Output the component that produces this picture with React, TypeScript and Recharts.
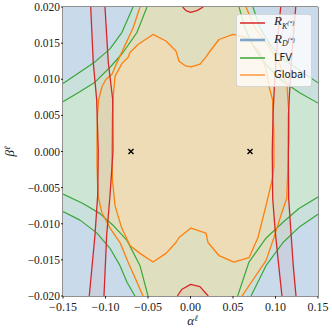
import React from "react";
import { ScatterChart, Scatter, XAxis, YAxis, ReferenceLine, Legend } from "recharts";

// (alpha, beta) pairs
type Pt = [number, number];

const xTicks = [-0.15, -0.1, -0.05, 0, 0.05, 0.1, 0.15];
const yTicks = [-0.02, -0.015, -0.01, -0.005, 0, 0.005, 0.01, 0.015, 0.02];

const plotCorners: Pt[] = [[-0.15, -0.02], [0.15, -0.02], [0.15, 0.02], [-0.15, 0.02]];
const benchmarks: Pt[] = [[-0.07, 0], [0.07, 0]];

// LFV contours (inner = 1 sigma, outer = 2 sigma), one pair per corner
const lfvTopLeftInner: Pt[] = [[-0.15, 0.0069], [-0.1312, 0.0082], [-0.1124, 0.0096], [-0.0935, 0.0118], [-0.0794, 0.0137], [-0.0629, 0.0165], [-0.0512, 0.02]];
const lfvTopLeftOuter: Pt[] = [[-0.15, 0.0094], [-0.1312, 0.0109], [-0.1124, 0.0124], [-0.0947, 0.0142], [-0.0806, 0.0165], [-0.0676, 0.02]];
const lfvTopRightInner: Pt[] = [[0.0571, 0.02], [0.0641, 0.0171], [0.0747, 0.0144], [0.0888, 0.012], [0.1076, 0.0098], [0.1288, 0.0081], [0.15, 0.0067]];
const lfvTopRightOuter: Pt[] = [[0.0735, 0.02], [0.0818, 0.0171], [0.0935, 0.0148], [0.11, 0.0127], [0.1288, 0.0112], [0.15, 0.0095]];
const lfvBottomRightInner: Pt[] = [[0.15, -0.0063], [0.1276, -0.0079], [0.1088, -0.0098], [0.0888, -0.012], [0.0688, -0.0153], [0.0555, -0.02]];
const lfvBottomRightOuter: Pt[] = [[0.15, -0.0087], [0.1276, -0.0105], [0.1088, -0.0126], [0.0888, -0.0158], [0.0712, -0.02]];
const lfvBottomLeftInner: Pt[] = [[-0.15, -0.0059], [-0.1265, -0.0072], [-0.1065, -0.0086], [-0.0912, -0.0102], [-0.0747, -0.0123], [-0.0594, -0.0158], [-0.05, -0.02]];
const lfvBottomLeftOuter: Pt[] = [[-0.15, -0.0083], [-0.13, -0.0095], [-0.11, -0.0113], [-0.0947, -0.0134], [-0.0829, -0.0158], [-0.0747, -0.0181], [-0.0653, -0.02]];

// Global fit: 1 sigma closed blob, 2 sigma left/right boundaries
const globalInner: Pt[] = [
  [-0.0924, 0], [-0.0918, 0.0052], [-0.0912, 0.0072], [-0.0888, 0.0104], [-0.0806, 0.0122], [-0.0735, 0.013],
  [-0.0712, 0.0137], [-0.0618, 0.0148], [-0.0441, 0.0162], [-0.0288, 0.0153], [-0.0171, 0.0139], [-0.0135, 0.0125],
  [-0.0065, 0.0119], [0.0006, 0.0117], [0.0112, 0.0121], [0.0182, 0.0131], [0.0218, 0.0137], [0.0335, 0.0155],
  [0.05, 0.0162], [0.0653, 0.0158], [0.0806, 0.0139], [0.0888, 0.0114], [0.0924, 0.009], [0.0965, 0.0072],
  [0.098, 0.003], [0.0982, -0.0019], [0.0965, -0.0037], [0.0888, -0.0075], [0.0794, -0.0119], [0.0688, -0.0147],
  [0.0512, -0.0153], [0.0335, -0.0144], [0.0206, -0.0126], [0.0182, -0.0113], [0.0006, -0.0106], [-0.0135, -0.0119],
  [-0.0171, -0.0126], [-0.0288, -0.0141], [-0.0441, -0.0153], [-0.0594, -0.0141], [-0.0712, -0.013], [-0.0809, -0.0106],
  [-0.0888, -0.0075], [-0.0918, -0.004],
];
const globalOuterLeft: Pt[] = [
  [-0.0594, 0.02], [-0.0676, 0.0171], [-0.0794, 0.0141], [-0.0865, 0.0123], [-0.0924, 0.0107], [-0.0994, 0.01],
  [-0.1041, 0.009], [-0.108, 0.0072], [-0.1094, 0.0051], [-0.11, 0.0024], [-0.11, -0.0019], [-0.1088, -0.0061],
  [-0.1045, -0.0084], [-0.0947, -0.0106], [-0.0829, -0.0126], [-0.0735, -0.0153], [-0.0629, -0.0181], [-0.0559, -0.02],
];
const globalOuterRight: Pt[] = [
  [0.0653, 0.02], [0.0759, 0.0171], [0.0935, 0.0143], [0.1053, 0.012], [0.1135, 0.0092], [0.1147, 0.007],
  [0.1159, 0.0051], [0.1159, 0.0017], [0.1147, -0.0019], [0.1132, -0.0065], [0.1065, -0.0088], [0.0982, -0.0119],
  [0.0888, -0.0151], [0.0606, -0.02],
];

// R_K(*) band edges and the two small caps at alpha ~ 0
const rkLeftA: Pt[] = [[-0.1174, 0.02], [-0.1144, 0.0123], [-0.1104, 0.0072], [-0.1085, 0], [-0.1092, -0.0061], [-0.1124, -0.0116], [-0.1191, -0.02]];
const rkLeftB: Pt[] = [[-0.1006, 0.02], [-0.0967, 0.0123], [-0.0915, 0.0072], [-0.0912, 0], [-0.0947, -0.0061], [-0.0986, -0.0116], [-0.1018, -0.02]];
const rkRightA: Pt[] = [[0.1061, 0.02], [0.1024, 0.0155], [0.0994, 0.0107], [0.0971, 0.0052], [0.0962, 0], [0.0967, -0.0065], [0.0998, -0.0112], [0.1038, -0.0158], [0.1076, -0.02]];
const rkRightB: Pt[] = [[0.1238, 0.02], [0.1206, 0.0155], [0.1176, 0.0107], [0.1153, 0.0052], [0.1151, 0], [0.1155, -0.0065], [0.1182, -0.0112], [0.1209, -0.0158], [0.1241, -0.02]];
const rkTopCap: Pt[] = [[-0.0092, 0.02], [-0.0053, 0.0195], [0.0002, 0.01925], [0.0076, 0.0195], [0.015, 0.02]];
const rkBottomCap: Pt[] = [[-0.0155, -0.02], [-0.0104, -0.0191], [0.0002, -0.0184], [0.0111, -0.0187], [0.0209, -0.02]];

const RED = "#d62728";
const GREEN = "#3aa63a";
const ORANGE = "#ff7f0e";
const RED_FILL = "rgba(214,39,40,0.05)";

const rev = (p: Pt[]) => [...p].reverse();
const toRows = (p: Pt[]) => p.map(([a, b]) => ({ a, b }));

function toPath(points: { x: number; y: number }[], close: boolean) {
  if (!points || !points.length) return "";
  const d = points.map((p, i) => `${i ? "L" : "M"}${p.x},${p.y}`).join("");
  return close ? d + "Z" : d;
}

const noDot = () => <g />;

const fillArea = (key: string, pts: Pt[], color: string) => (
  <Scatter
    key={key}
    data={toRows(pts)}
    shape={noDot}
    isAnimationActive={false}
    legendType="none"
    line={(p: any) => <path d={toPath(p.points, true)} fill={color} stroke="none" />}
  />
);

const strokeLine = (key: string, pts: Pt[], color: string, width: number) => (
  <Scatter
    key={key}
    data={toRows(pts)}
    shape={noDot}
    isAnimationActive={false}
    legendType="none"
    line={(p: any) => (
      <path d={toPath(p.points, false)} fill="none" stroke={color} strokeWidth={width} strokeLinejoin="round" />
    )}
  />
);

const crossShape = (p: any) => (
  <path
    d={`M${p.cx - 2.5},${p.cy - 2.5}L${p.cx + 2.5},${p.cy + 2.5}M${p.cx - 2.5},${p.cy + 2.5}L${p.cx + 2.5},${p.cy - 2.5}`}
    stroke="#000"
    strokeWidth={1.4}
  />
);

const legendItems = [
  { key: "rk", color: RED, width: 1.5 },
  { key: "rd", color: "#7ea6cc", width: 2.6 },
  { key: "lfv", color: GREEN, width: 1.5 },
  { key: "global", color: "#ff9a40", width: 1.5 },
];

function legendLabel(key: string) {
  const math = { fontFamily: "'Liberation Serif', serif", fontStyle: "italic" as const, fontSize: 13 };
  if (key === "rk")
    return (
      <span style={math}>
        R<sub style={{ fontSize: 8 }}>K<sup style={{ fontSize: 6 }}>(*)</sup></sub>
      </span>
    );
  if (key === "rd")
    return (
      <span style={math}>
        R<sub style={{ fontSize: 8 }}>D<sup style={{ fontSize: 6 }}>(*)</sup></sub>
      </span>
    );
  return <span>{key === "lfv" ? "LFV" : "Global"}</span>;
}

function LegendBox() {
  return (
    <div
      style={{
        position: "relative",
        width: 76,
        height: 73,
        boxSizing: "border-box",
        background: "rgba(255,255,255,0.8)",
        border: "1px solid rgba(204,204,204,0.8)",
        borderRadius: 3,
        fontFamily: "'DejaVu Sans', sans-serif",
        fontSize: 10,
        color: "#222",
      }}
    >
      {legendItems.map((it, i) => (
        <div
          key={it.key}
          style={{ position: "absolute", left: 3, top: 7.5 + i * 17.6 - 9, height: 18, display: "flex", alignItems: "center", lineHeight: 1 }}
        >
          <svg width={25} height={4}>
            <line x1={0} y1={2} x2={25} y2={2} stroke={it.color} strokeWidth={it.width} />
          </svg>
          <span style={{ marginLeft: 9 }}>{legendLabel(it.key)}</span>
        </div>
      ))}
    </div>
  );
}

const fmtX = (v: number) => v.toFixed(2).replace("-", "\u2212");
const fmtY = (v: number) => v.toFixed(3).replace("-", "\u2212");

const xTickStyle = { fill: "#222", fontSize: 12, fontFamily: "'Liberation Serif', serif" };
const yTickStyle = { fill: "#222", fontSize: 11.5, fontFamily: "'Liberation Serif', serif" };

const xLabel = (props: any) => {
  const vb = props.viewBox || { x: 63, y: 296, width: 255, height: 30 };
  return (
    <text x={vb.x + vb.width / 2 + 2} y={vb.y + 29} textAnchor="middle" fill="#222" fontFamily="'Liberation Serif', serif" fontSize={13}>
      <tspan fontStyle="italic">α</tspan>
      <tspan fontStyle="italic" fontSize={8.5} dy={-4.5}>ℓ</tspan>
    </text>
  );
};

const yLabel = (props: any) => {
  const vb = props.viewBox || { x: 0, y: 7, width: 63, height: 289 };
  const cx = vb.x + 14;
  const cy = vb.y + vb.height / 2;
  return (
    <text x={cx} y={cy} transform={`rotate(-90 ${cx} ${cy})`} textAnchor="middle" fill="#222" fontFamily="'Liberation Serif', serif" fontSize={13}>
      <tspan fontStyle="italic">β</tspan>
      <tspan fontStyle="italic" fontSize={8.5} dy={-4.5}>ℓ</tspan>
    </text>
  );
};

export default function App() {
  const domX: [number, number] = [-0.15, 0.15];
  const domY: [number, number] = [-0.02, 0.02];
  return (
    <div style={{ position: "absolute", left: 0, top: 0, width: 332, height: 332, background: "#fff" }}>
      <ScatterChart width={332} height={332} margin={{ top: 3, right: 9, bottom: 6, left: 0 }}>
        {fillArea("bg", plotCorners, "#c9dbea")}
        {fillArea("lfv2", [...lfvTopLeftOuter, ...lfvTopRightOuter, ...lfvBottomRightOuter, ...rev(lfvBottomLeftOuter)], "#cae0dd")}
        {fillArea("lfv1", [...lfvTopLeftInner, ...lfvTopRightInner, ...lfvBottomRightInner, ...rev(lfvBottomLeftInner)], "#cde6d4")}
        {fillArea("glob2", [...globalOuterLeft, ...rev(globalOuterRight)], "#dfdfbf")}
        {fillArea("glob1", globalInner, "#eddcb5")}
        {fillArea("rkL", [...rkLeftA, ...rev(rkLeftB)], RED_FILL)}
        {fillArea("rkR", [...rkRightA, ...rev(rkRightB)], RED_FILL)}
        {fillArea("rkT", rkTopCap, RED_FILL)}
        {fillArea("rkB", rkBottomCap, RED_FILL)}

        {strokeLine("g1", lfvTopLeftInner, GREEN, 1.2)}
        {strokeLine("g2", lfvTopLeftOuter, GREEN, 1.2)}
        {strokeLine("g3", lfvTopRightInner, GREEN, 1.2)}
        {strokeLine("g4", lfvTopRightOuter, GREEN, 1.2)}
        {strokeLine("g5", lfvBottomRightInner, GREEN, 1.2)}
        {strokeLine("g6", lfvBottomRightOuter, GREEN, 1.2)}
        {strokeLine("g7", lfvBottomLeftInner, GREEN, 1.2)}
        {strokeLine("g8", lfvBottomLeftOuter, GREEN, 1.2)}

        {strokeLine("o1", [...globalInner, globalInner[0]], ORANGE, 1.3)}
        {strokeLine("o2", globalOuterLeft, ORANGE, 1.3)}
        {strokeLine("o3", globalOuterRight, ORANGE, 1.3)}

        {strokeLine("r1", rkLeftA, RED, 1.3)}
        {strokeLine("r2", rkLeftB, RED, 1.3)}
        {strokeLine("r3", rkRightA, RED, 1.3)}
        {strokeLine("r4", rkRightB, RED, 1.3)}
        {strokeLine("r5", rkTopCap, RED, 1.3)}
        {strokeLine("r6", rkBottomCap, RED, 1.3)}

        <ReferenceLine x={0} stroke="#3a3a3a" strokeWidth={1} />
        <ReferenceLine y={0} stroke="#3a3a3a" strokeWidth={1} />

        <Scatter data={toRows(benchmarks)} shape={crossShape} isAnimationActive={false} legendType="none" />

        <XAxis
          type="number"
          dataKey="a"
          domain={domX}
          ticks={xTicks}
          allowDataOverflow
          height={30}
          stroke="#222"
          tickSize={2.5}
          tickMargin={4}
          tick={xTickStyle}
          tickFormatter={fmtX}
          interval={0}
          label={xLabel}
        />
        <XAxis
          xAxisId="top"
          orientation="top"
          type="number"
          dataKey="a"
          domain={domX}
          ticks={xTicks}
          allowDataOverflow
          height={4}
          stroke="#222"
          tickSize={2.5}
          tick={false}
          interval={0}
        />
        <YAxis
          type="number"
          dataKey="b"
          domain={domY}
          ticks={yTicks}
          allowDataOverflow
          width={63}
          stroke="#222"
          tickSize={2}
          tickMargin={1}
          tick={yTickStyle}
          tickFormatter={fmtY}
          interval={0}
          label={yLabel}
        />
        <YAxis
          yAxisId="right"
          orientation="right"
          type="number"
          dataKey="b"
          domain={domY}
          ticks={yTicks}
          allowDataOverflow
          width={5}
          stroke="#222"
          tickSize={2.5}
          tick={false}
          interval={0}
        />
        <Legend
          layout="vertical"
          align="center"
          verticalAlign="middle"
          wrapperStyle={{ left: 236, top: 14, width: 76, height: 73 }}
          content={() => <LegendBox />}
        />
      </ScatterChart>
    </div>
  );
}
